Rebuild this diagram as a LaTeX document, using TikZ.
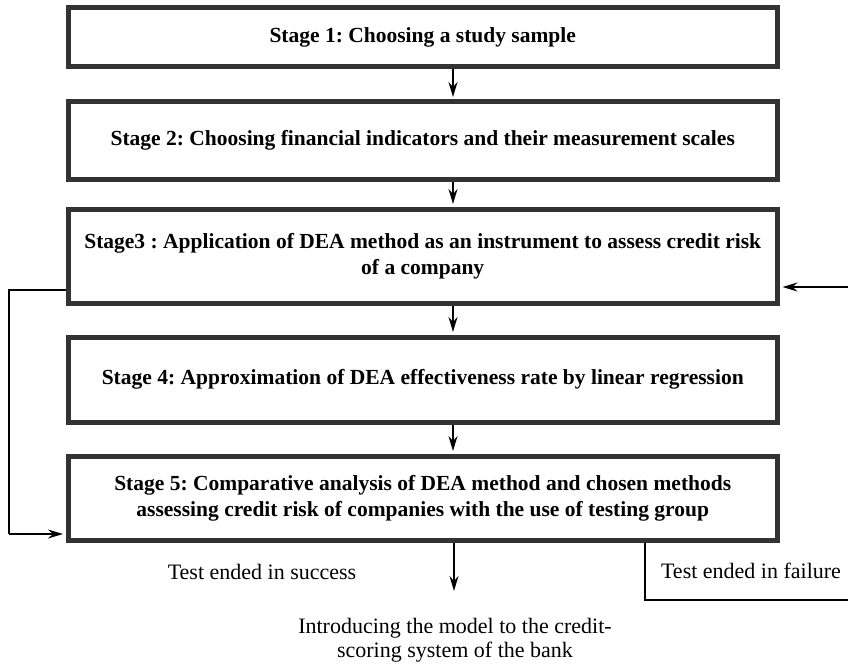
\documentclass[tikz,border=0pt]{standalone}
\usepackage{fontspec}
\setmainfont{Liberation Serif}
\usetikzlibrary{arrows.meta,calc}
\definecolor{boxgray}{HTML}{333333}
\frenchspacing
\begin{document}
\begin{tikzpicture}[x=1pt,y=-1pt,
  stagebox/.style={draw=boxgray,line width=5pt,rectangle,minimum width=709.5pt,
    align=center,font=\fontsize{21.5}{26}\selectfont\bfseries,inner sep=0pt},
  arr/.style={line width=1.8pt,-{Stealth[length=15pt,width=9pt,inset=5pt]}},
  conn/.style={line width=1.5pt},
  plain/.style={font=\fontsize{22}{24}\selectfont,align=center,inner sep=0pt}]
\useasboundingbox (0,0) rectangle (848,666);
\node[stagebox,minimum height=58.5pt] (b1) at (422.75,37.25) {Stage 1: Choosing a study sample};
\node[stagebox,minimum height=77.5pt] (b2) at (422.75,140.75) {Stage 2: Choosing financial indicators and their measurement scales};
\node[stagebox,minimum height=94pt] (b3) at (422.75,256) {Stage3 : Application of DEA method as an instrument to assess credit risk\\of a company};
\node[stagebox,minimum height=85pt] (b4) at (422.75,379.5) {Stage 4: Approximation of DEA effectiveness rate by linear regression};
\node[stagebox,minimum height=84pt] (b5) at (422.75,498) {Stage 5: Comparative analysis of DEA method and chosen methods\\assessing credit risk of companies with the use of testing group};
\node[plain] (succ) at (262,572) {Test ended in success};
\node[plain] (fail) at (751,571) {Test ended in failure};
\node[plain,anchor=north] (intro) at (455,618) {Introducing the model to the credit-\\scoring system of the bank};
\coordinate (ax) at (453,0);
\coordinate (ax2) at (454,0);
\coordinate (tip) at (454,591);
\coordinate (L1) at (9,290);
\coordinate (L2) at (9,534);
\coordinate (R1) at (848,287);
\coordinate (F1) at (645,600);
\coordinate (F2) at (848,600);
\draw[arr,shorten >=2.5pt] (b1.south -| ax) -- (b2.north -| ax);
\draw[arr,shorten >=2.5pt] (b2.south -| ax) -- (b3.north -| ax);
\draw[arr,shorten >=2.5pt] (b3.south -| ax) -- (b4.north -| ax);
\draw[arr,shorten >=2.5pt] (b4.south -| ax) -- (b5.north -| ax);
\draw[arr] (b5.south -| ax2) -- (tip);
\draw[conn] (b3.west |- L1) -- (L1) -- (L2);
\draw[arr,shorten >=2.5pt] (L2) -- (b5.west |- L2);
\draw[arr,shorten >=2.5pt] (R1) -- (b3.east |- R1);
\draw[conn] (b5.south -| F1) -- (F1) -- (F2);
\end{tikzpicture}
\end{document}
